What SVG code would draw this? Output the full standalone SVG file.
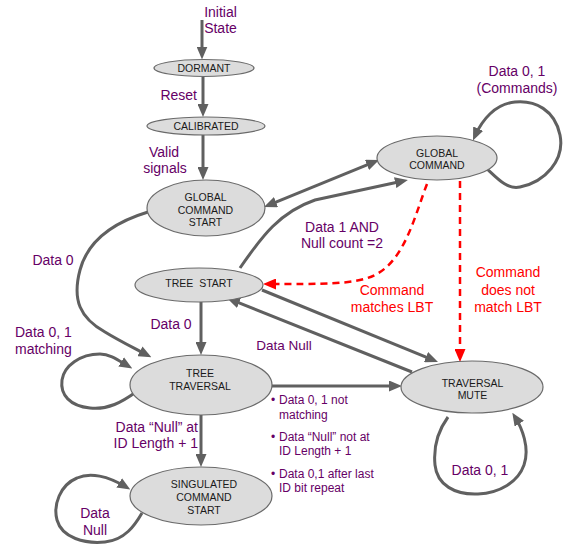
<svg xmlns="http://www.w3.org/2000/svg" width="568" height="548" viewBox="0 0 568 548">
<style>
.node{fill:#dcdcdc;stroke:#6a6a6a;stroke-width:1.2}
.nt{font-family:"Liberation Sans",Arial,sans-serif;font-size:10.5px;fill:#1a1a1a;text-anchor:middle}
.e{fill:none;stroke:#606060;stroke-width:3}
.r{fill:none;stroke:#ff0000;stroke-width:2.5;stroke-dasharray:7,5}
.lb{font-family:"Liberation Sans",Arial,sans-serif;font-size:14px;fill:#660066}
.rl{font-family:"Liberation Sans",Arial,sans-serif;font-size:14px;fill:#ff0000;text-anchor:middle}
.bl{font-family:"Liberation Sans",Arial,sans-serif;font-size:12px;fill:#660066}
.m{text-anchor:middle}
.en{text-anchor:end}
</style>
<defs>
<marker id="ah" markerUnits="userSpaceOnUse" markerWidth="13" markerHeight="11" viewBox="0 0 13 11" refX="8" refY="5.5" orient="auto-start-reverse"><path d="M0,0 L13,5.5 L0,11 z" fill="#606060"/></marker>
<marker id="ahr" markerUnits="userSpaceOnUse" markerWidth="13" markerHeight="11" viewBox="0 0 13 11" refX="8" refY="5.5" orient="auto"><path d="M0,0 L13,5.5 L0,11 z" fill="#ff0000"/></marker>
</defs>
<g id="connectors">
<path class="e" d="M202,20 L202,54.5" marker-end="url(#ah)"/>
<path class="e" d="M203,77 L203,112" marker-end="url(#ah)"/>
<path class="e" d="M203,135 L203,175" marker-end="url(#ah)"/>
<path class="e" d="M268.6,205.1 L374.4,161.9" marker-start="url(#ah)" marker-end="url(#ah)"/>
<path class="e" d="M240,268 C262,236 280,212 315,200 L403,181" marker-end="url(#ah)"/>
<path class="e" d="M485,167 C497,178 507,190 520,187 C545,182 565,160 560,135 C555,110 535,100 515,102 C495,104 482,120 475,136" marker-end="url(#ah)"/>
<path class="r" d="M427,184 C415,215 405,260 375,275 C355,285 320,284 268,284" marker-end="url(#ahr)"/>
<path class="r" d="M460,181 L460,357" marker-end="url(#ahr)"/>
<path class="e" d="M148,212 C115,222 88,240 80,270 C72,300 80,318 105,332 C118,340 132,347 147,355" marker-end="url(#ah)"/>
<path class="e" d="M201,302 L201,350" marker-end="url(#ah)"/>
<path class="e" d="M136,392 C122,402 108,410 90,408 C70,406 60,395 62,380 C64,366 80,354 100,354 C110,354 118,360 128,366" marker-end="url(#ah)"/>
<path class="e" d="M262,290 L433.4,360.1" marker-end="url(#ah)"/>
<path class="e" d="M412,372 L231.6,299.9" marker-end="url(#ah)"/>
<path class="e" d="M272,386 L397,386" marker-end="url(#ah)"/>
<path class="e" d="M201,415 L201,462" marker-end="url(#ah)"/>
<path class="e" d="M142,513 C135,525 125,540 105,542 C85,544 62,538 57,520 C53,505 60,485 77,478 C90,472 108,476 126,487" marker-end="url(#ah)"/>
<path class="e" d="M448,417 C440,428 433,445 435,465 C437,485 455,495 478,494 C500,493 518,482 524,465 C530,448 522,428 515,417" marker-end="url(#ah)"/>
</g>
<g id="labels">
<text class="lb m" x="220.5" y="17">Initial</text>
<text class="lb m" x="220.5" y="33">State</text>
<text class="lb en" x="197" y="100">Reset</text>
<text class="lb m" x="164" y="157">Valid</text>
<text class="lb m" x="165" y="173">signals</text>
<text class="lb m" x="342" y="232">Data 1 AND</text>
<text class="lb m" x="342" y="248">Null count =2</text>
<text class="lb m" x="517" y="76">Data 0, 1</text>
<text class="lb m" x="517" y="93">(Commands)</text>
<text class="rl" x="392" y="295">Command</text>
<text class="rl" x="392" y="312">matches LBT</text>
<text class="rl" x="508" y="277">Command</text>
<text class="rl" x="508" y="295">does not</text>
<text class="rl" x="508" y="312">match LBT</text>
<text class="lb m" x="53" y="265">Data 0</text>
<text class="lb m" x="171" y="329">Data 0</text>
<text class="lb" x="15" y="337">Data 0, 1</text>
<text class="lb" x="15" y="354">matching</text>
<text class="lb m" x="284" y="350" style="font-size:13.5px">Data Null</text>
<text class="lb en" x="198" y="432">Data “Null” at</text>
<text class="lb en" x="198" y="448">ID Length + 1</text>
<text class="lb m" x="95" y="518">Data</text>
<text class="lb m" x="95" y="535">Null</text>
<text class="lb m" x="480" y="475">Data 0, 1</text>
<text class="bl" x="271" y="404">•</text>
<text class="bl" x="279" y="404">Data 0, 1 not</text>
<text class="bl" x="279" y="419">matching</text>
<text class="bl" x="271" y="441">•</text>
<text class="bl" x="279" y="441">Data “Null” not at</text>
<text class="bl" x="279" y="455">ID Length + 1</text>
<text class="bl" x="271" y="478">•</text>
<text class="bl" x="279" y="478">Data 0,1 after last</text>
<text class="bl" x="279" y="492">ID bit repeat</text>
</g>
<g id="dormant">
<ellipse class="node" cx="204" cy="68" rx="50" ry="8.5"/>
<text class="nt" x="204" y="72">DORMANT</text>
</g>
<g id="calibrated">
<ellipse class="node" cx="206" cy="126" rx="59" ry="9"/>
<text class="nt" x="206" y="130">CALIBRATED</text>
</g>
<g id="global-command-start">
<ellipse class="node" cx="206" cy="208" rx="59" ry="28"/>
<text class="nt" x="205.5" y="201">GLOBAL</text>
<text class="nt" x="205.5" y="213.5">COMMAND</text>
<text class="nt" x="205.5" y="226">START</text>
</g>
<g id="global-command">
<ellipse class="node" cx="437" cy="158" rx="60" ry="22"/>
<text class="nt" x="437" y="157">GLOBAL</text>
<text class="nt" x="437" y="169">COMMAND</text>
</g>
<g id="tree-start">
<ellipse class="node" cx="199" cy="285" rx="64" ry="17"/>
<text class="nt" x="199" y="287" style="white-space:pre">TREE  START</text>
</g>
<g id="tree-traversal">
<ellipse class="node" cx="201" cy="385" rx="71" ry="30"/>
<text class="nt" x="200" y="377">TREE</text>
<text class="nt" x="200" y="390">TRAVERSAL</text>
</g>
<g id="traversal-mute">
<ellipse class="node" cx="472" cy="387" rx="71" ry="26"/>
<text class="nt" x="472.5" y="386.5">TRAVERSAL</text>
<text class="nt" x="472.5" y="399">MUTE</text>
</g>
<g id="singulated-command-start">
<ellipse class="node" cx="201" cy="496" rx="71" ry="29"/>
<text class="nt" x="204" y="488">SINGULATED</text>
<text class="nt" x="204" y="501">COMMAND</text>
<text class="nt" x="204" y="514">START</text>
</g>
</svg>
